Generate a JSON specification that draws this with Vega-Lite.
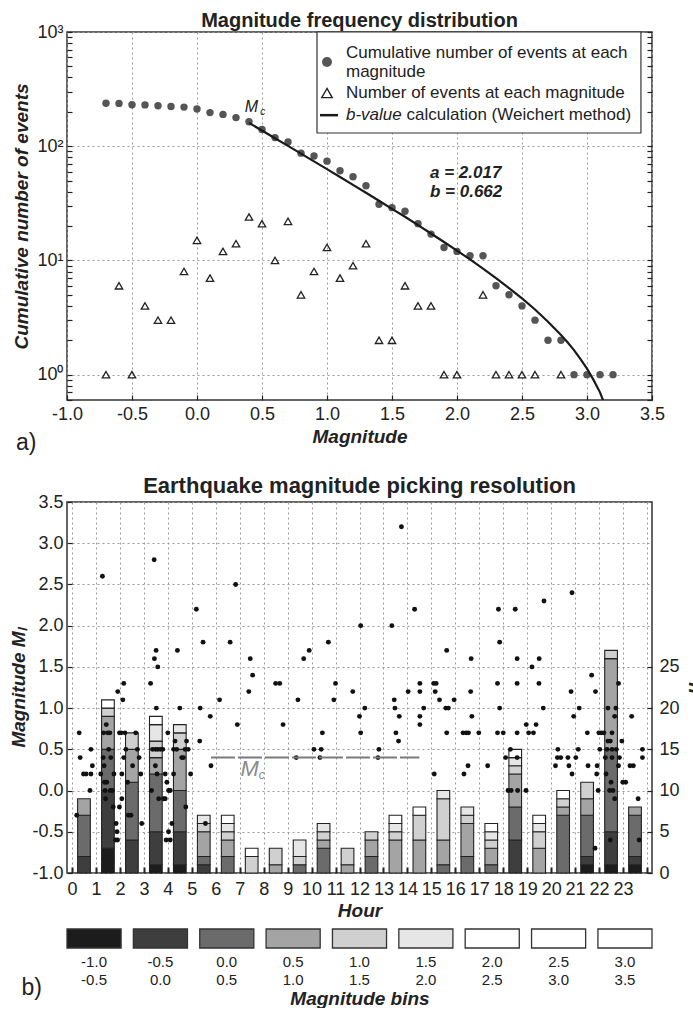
{
  "$schema": "https://vega.github.io/schema/vega-lite/v6.json",
  "background": "white",
  "padding": {"left": 9, "top": 10, "right": 0, "bottom": 0},
  "autosize": {"type": "pad"},
  "config": {
    "font": "Liberation Sans",
    "view": {"stroke": "#333333", "strokeWidth": 1.5},
    "axis": {
      "labelFont": "Liberation Sans",
      "labelFontSize": 18,
      "labelColor": "#222222",
      "titleFont": "Liberation Sans",
      "titleFontSize": 19,
      "titleFontWeight": "bold",
      "titleFontStyle": "italic",
      "titleColor": "#222222",
      "domain": false,
      "tickColor": "#222222",
      "tickWidth": 1.2,
      "gridColor": "#9a9a9a",
      "gridDash": [2, 3],
      "gridWidth": 1,
      "labelFlush": false,
      "labelOverlap": false
    },
    "title": {"font": "Liberation Sans", "fontWeight": "bold", "color": "#222222"},
    "text": {"font": "Liberation Sans", "color": "#222222"}
  },
  "datasets": {
    "cumulative": [
      {"m": -0.7, "N": 238}, {"m": -0.6, "N": 237}, {"m": -0.5, "N": 231}, {"m": -0.4, "N": 230},
      {"m": -0.3, "N": 226}, {"m": -0.2, "N": 223}, {"m": -0.1, "N": 220}, {"m": 0.0, "N": 212},
      {"m": 0.1, "N": 197}, {"m": 0.2, "N": 190}, {"m": 0.3, "N": 178}, {"m": 0.4, "N": 164},
      {"m": 0.5, "N": 140}, {"m": 0.6, "N": 119}, {"m": 0.7, "N": 109}, {"m": 0.8, "N": 87},
      {"m": 0.9, "N": 82}, {"m": 1.0, "N": 74}, {"m": 1.1, "N": 61}, {"m": 1.2, "N": 54},
      {"m": 1.3, "N": 45}, {"m": 1.4, "N": 31}, {"m": 1.5, "N": 29}, {"m": 1.6, "N": 27},
      {"m": 1.7, "N": 21}, {"m": 1.8, "N": 17}, {"m": 1.9, "N": 13}, {"m": 2.0, "N": 12},
      {"m": 2.1, "N": 11}, {"m": 2.2, "N": 11}, {"m": 2.3, "N": 6}, {"m": 2.4, "N": 5},
      {"m": 2.5, "N": 4}, {"m": 2.6, "N": 3}, {"m": 2.7, "N": 2}, {"m": 2.8, "N": 2},
      {"m": 2.9, "N": 1}, {"m": 3.0, "N": 1}, {"m": 3.1, "N": 1}, {"m": 3.2, "N": 1}
    ],
    "perMagnitude": [
      {"m": -0.7, "n": 1}, {"m": -0.6, "n": 6}, {"m": -0.5, "n": 1}, {"m": -0.4, "n": 4},
      {"m": -0.3, "n": 3}, {"m": -0.2, "n": 3}, {"m": -0.1, "n": 8}, {"m": 0.0, "n": 15},
      {"m": 0.1, "n": 7}, {"m": 0.2, "n": 12}, {"m": 0.3, "n": 14}, {"m": 0.4, "n": 24},
      {"m": 0.5, "n": 21}, {"m": 0.6, "n": 10}, {"m": 0.7, "n": 22}, {"m": 0.8, "n": 5},
      {"m": 0.9, "n": 8}, {"m": 1.0, "n": 13}, {"m": 1.1, "n": 7}, {"m": 1.2, "n": 9},
      {"m": 1.3, "n": 14}, {"m": 1.4, "n": 2}, {"m": 1.5, "n": 2}, {"m": 1.6, "n": 6},
      {"m": 1.7, "n": 4}, {"m": 1.8, "n": 4}, {"m": 1.9, "n": 1}, {"m": 2.0, "n": 1},
      {"m": 2.2, "n": 5}, {"m": 2.3, "n": 1}, {"m": 2.4, "n": 1}, {"m": 2.5, "n": 1},
      {"m": 2.6, "n": 1}, {"m": 2.8, "n": 1}
    ],
    "fit": [
      {"m": 0.4, "N": 160}, {"m": 0.5, "N": 137.1}, {"m": 0.6, "N": 117.5}, {"m": 0.7, "N": 100.6},
      {"m": 0.8, "N": 86.1}, {"m": 0.9, "N": 73.6}, {"m": 1.0, "N": 63.0}, {"m": 1.1, "N": 53.8},
      {"m": 1.2, "N": 45.9}, {"m": 1.3, "N": 39.1}, {"m": 1.4, "N": 33.3}, {"m": 1.5, "N": 28.3},
      {"m": 1.6, "N": 24.1}, {"m": 1.7, "N": 20.4}, {"m": 1.8, "N": 17.2}, {"m": 1.9, "N": 14.5},
      {"m": 2.0, "N": 12.2}, {"m": 2.1, "N": 10.2}, {"m": 2.2, "N": 8.47}, {"m": 2.3, "N": 7.0},
      {"m": 2.4, "N": 5.73}, {"m": 2.5, "N": 4.65}, {"m": 2.6, "N": 3.72}, {"m": 2.7, "N": 2.91},
      {"m": 2.8, "N": 2.23}, {"m": 2.85, "N": 1.92}, {"m": 2.9, "N": 1.64}, {"m": 2.95, "N": 1.37},
      {"m": 3.0, "N": 1.13}, {"m": 3.05, "N": 0.9}, {"m": 3.1, "N": 0.7}, {"m": 3.15, "N": 0.5},
      {"m": 3.2, "N": 0.32}
    ],
    "events": [
      {"t": 0.3, "m": 0.7}, {"t": 0.34, "m": 0.4}, {"t": 0.48, "m": 0.2}, {"t": 0.59, "m": 0.2}, {"t": 0.2, "m": -0.3},
      {"t": 0.79, "m": 0.5}, {"t": 0.85, "m": 0.3}, {"t": 0.79, "m": 0.2}, {"t": 0.75, "m": 0.0},
      {"t": 1.2, "m": 0.2}, {"t": 1.32, "m": 0.7}, {"t": 1.36, "m": 0.1}, {"t": 1.38, "m": 0.0}, {"t": 1.3, "m": 0.4},
      {"t": 1.34, "m": 0.3}, {"t": 1.43, "m": 0.8}, {"t": 1.49, "m": 0.7}, {"t": 1.53, "m": 0.5}, {"t": 1.45, "m": 0.1},
      {"t": 1.4, "m": -0.1}, {"t": 1.6, "m": 0.0}, {"t": 1.68, "m": 0.0}, {"t": 1.72, "m": -0.2}, {"t": 1.84, "m": -0.4},
      {"t": 1.88, "m": -0.5}, {"t": 1.82, "m": -0.6}, {"t": 1.9, "m": -0.6}, {"t": 1.98, "m": 0.7}, {"t": 1.62, "m": 0.4},
      {"t": 1.58, "m": 0.7}, {"t": 1.75, "m": 0.2}, {"t": 1.27, "m": 2.6}, {"t": 1.91, "m": 1.2},
      {"t": 2.05, "m": 0.7}, {"t": 2.21, "m": 0.7}, {"t": 2.66, "m": 0.7}, {"t": 2.08, "m": 0.2}, {"t": 2.25, "m": 0.5},
      {"t": 2.16, "m": 0.4}, {"t": 2.08, "m": -0.1}, {"t": 1.98, "m": -0.2}, {"t": 2.32, "m": 0.1}, {"t": 2.35, "m": -0.3},
      {"t": 2.46, "m": -0.3}, {"t": 2.73, "m": 0.5}, {"t": 2.8, "m": 0.4}, {"t": 2.87, "m": 0.2}, {"t": 2.91, "m": -0.4},
      {"t": 2.53, "m": 0.3}, {"t": 2.12, "m": 1.1}, {"t": 2.16, "m": 1.3},
      {"t": 3.32, "m": 0.0}, {"t": 3.28, "m": 1.3}, {"t": 3.51, "m": 1.7}, {"t": 3.44, "m": 1.6}, {"t": 3.58, "m": 1.5},
      {"t": 3.36, "m": 0.5}, {"t": 3.48, "m": 0.5}, {"t": 3.58, "m": 0.5}, {"t": 3.48, "m": 0.3}, {"t": 3.55, "m": 0.2},
      {"t": 3.62, "m": -0.1}, {"t": 3.69, "m": 0.5}, {"t": 3.79, "m": 0.5}, {"t": 3.89, "m": 0.2}, {"t": 3.96, "m": 0.1},
      {"t": 3.82, "m": -0.1}, {"t": 3.89, "m": -0.1}, {"t": 3.52, "m": 1.0}, {"t": 3.43, "m": 2.8},
      {"t": 4.03, "m": 0.0}, {"t": 4.1, "m": 0.0}, {"t": 3.93, "m": -0.6}, {"t": 4.03, "m": -0.5}, {"t": 4.1, "m": -0.6},
      {"t": 4.17, "m": -0.4}, {"t": 4.24, "m": 0.5}, {"t": 4.3, "m": 0.6}, {"t": 4.37, "m": 0.5}, {"t": 4.4, "m": 1.7},
      {"t": 4.5, "m": 1.0}, {"t": 4.58, "m": 0.4}, {"t": 4.65, "m": 0.4}, {"t": 4.72, "m": 0.5}, {"t": 4.78, "m": 0.6},
      {"t": 4.85, "m": 0.5}, {"t": 4.75, "m": -0.2}, {"t": 4.95, "m": 0.2}, {"t": 4.0, "m": 0.7}, {"t": 4.24, "m": 0.2},
      {"t": 5.35, "m": 1.0}, {"t": 5.33, "m": 0.6}, {"t": 5.47, "m": 1.8}, {"t": 5.57, "m": -0.4}, {"t": 5.77, "m": 0.9},
      {"t": 5.8, "m": 0.3}, {"t": 5.19, "m": 2.2},
      {"t": 6.16, "m": 1.1}, {"t": 6.6, "m": 1.8}, {"t": 6.9, "m": 0.8}, {"t": 6.83, "m": 2.5},
      {"t": 7.44, "m": 1.6}, {"t": 7.54, "m": 1.4}, {"t": 7.38, "m": 1.2},
      {"t": 8.5, "m": 1.3}, {"t": 8.67, "m": 1.3}, {"t": 8.81, "m": 0.8},
      {"t": 9.67, "m": 1.6}, {"t": 9.9, "m": 1.7}, {"t": 9.43, "m": 1.1}, {"t": 9.36, "m": 0.4},
      {"t": 10.45, "m": 0.7}, {"t": 10.1, "m": 0.5}, {"t": 10.4, "m": 0.5}, {"t": 10.35, "m": 0.4}, {"t": 10.7, "m": 1.8},
      {"t": 10.93, "m": 1.1},
      {"t": 11.0, "m": 1.3}, {"t": 11.72, "m": 1.2},
      {"t": 12.0, "m": 0.9}, {"t": 12.05, "m": 0.7}, {"t": 12.22, "m": 1.0}, {"t": 12.81, "m": 0.5}, {"t": 12.77, "m": 0.4},
      {"t": 12.05, "m": 2.0},
      {"t": 13.45, "m": 1.1}, {"t": 13.48, "m": 1.0}, {"t": 13.52, "m": 0.7}, {"t": 13.63, "m": 0.6}, {"t": 13.66, "m": 0.9},
      {"t": 13.35, "m": 2.0}, {"t": 13.75, "m": 3.2},
      {"t": 14.03, "m": 1.2}, {"t": 14.52, "m": 1.3}, {"t": 14.52, "m": 1.2}, {"t": 14.52, "m": 0.9}, {"t": 14.52, "m": 0.8},
      {"t": 14.68, "m": 1.0}, {"t": 14.3, "m": 2.2},
      {"t": 15.1, "m": 1.3}, {"t": 15.2, "m": 1.3}, {"t": 15.16, "m": 1.2}, {"t": 15.34, "m": 1.1}, {"t": 15.12, "m": 0.2},
      {"t": 15.6, "m": 1.0}, {"t": 15.71, "m": 1.0}, {"t": 15.64, "m": 0.7}, {"t": 15.64, "m": 1.7}, {"t": 15.95, "m": 1.1},
      {"t": 16.36, "m": 0.2}, {"t": 16.32, "m": 0.7}, {"t": 16.53, "m": 0.3}, {"t": 16.45, "m": 0.7}, {"t": 16.55, "m": 0.7},
      {"t": 16.66, "m": 1.6}, {"t": 16.64, "m": 1.2}, {"t": 16.69, "m": 0.9}, {"t": 16.98, "m": 0.7},
      {"t": 17.35, "m": 0.3}, {"t": 17.76, "m": 1.3}, {"t": 17.85, "m": 1.0}, {"t": 17.76, "m": 0.7}, {"t": 17.85, "m": 1.8},
      {"t": 17.8, "m": 2.2},
      {"t": 18.0, "m": 0.7}, {"t": 18.1, "m": 0.4}, {"t": 18.3, "m": 0.5}, {"t": 18.2, "m": 0.0}, {"t": 18.33, "m": 0.0},
      {"t": 18.58, "m": 1.6}, {"t": 18.58, "m": 1.3}, {"t": 18.58, "m": 0.7}, {"t": 18.58, "m": 0.4}, {"t": 18.6, "m": 0.0},
      {"t": 18.95, "m": 0.0}, {"t": 18.96, "m": 0.8}, {"t": 18.5, "m": 2.2},
      {"t": 19.06, "m": 0.7}, {"t": 19.26, "m": 0.7}, {"t": 19.2, "m": 1.5}, {"t": 19.5, "m": 1.6}, {"t": 19.49, "m": 1.3},
      {"t": 19.37, "m": 0.8}, {"t": 19.67, "m": 1.0}, {"t": 19.7, "m": 2.3},
      {"t": 20.18, "m": 0.3}, {"t": 20.28, "m": 0.5}, {"t": 20.26, "m": 0.4}, {"t": 20.4, "m": 0.4}, {"t": 20.7, "m": 0.4},
      {"t": 20.74, "m": 0.3}, {"t": 20.83, "m": 1.2}, {"t": 20.87, "m": 0.2}, {"t": 20.94, "m": 0.9}, {"t": 20.87, "m": 2.4},
      {"t": 21.03, "m": 0.4}, {"t": 21.13, "m": 0.5}, {"t": 21.17, "m": 1.0}, {"t": 21.51, "m": 0.7}, {"t": 21.54, "m": 0.3},
      {"t": 21.69, "m": 1.4}, {"t": 21.85, "m": 1.2}, {"t": 21.83, "m": -0.7}, {"t": 21.9, "m": 0.2}, {"t": 21.92, "m": 0.3},
      {"t": 21.96, "m": 0.0}, {"t": 21.99, "m": 0.7},
      {"t": 22.03, "m": 0.5}, {"t": 22.09, "m": 0.7}, {"t": 22.2, "m": 0.7}, {"t": 22.37, "m": 1.0}, {"t": 22.7, "m": 1.0},
      {"t": 22.81, "m": 1.3}, {"t": 22.65, "m": 0.9}, {"t": 22.54, "m": 0.7}, {"t": 22.37, "m": 0.6}, {"t": 22.47, "m": 0.6},
      {"t": 22.72, "m": 0.5}, {"t": 22.95, "m": 0.6}, {"t": 22.33, "m": 0.5}, {"t": 22.54, "m": 0.5}, {"t": 22.26, "m": 0.4},
      {"t": 22.54, "m": 0.4}, {"t": 22.85, "m": 0.4}, {"t": 22.81, "m": 0.3}, {"t": 22.29, "m": 0.2}, {"t": 22.5, "m": 0.1},
      {"t": 22.44, "m": 0.0}, {"t": 22.58, "m": 0.0}, {"t": 22.65, "m": -0.1}, {"t": 22.47, "m": -0.6}, {"t": 22.99, "m": 0.1},
      {"t": 23.11, "m": 0.1}, {"t": 23.36, "m": 0.9}, {"t": 23.29, "m": 0.3}, {"t": 23.43, "m": 0.3}, {"t": 23.63, "m": -0.1},
      {"t": 23.67, "m": -0.6}, {"t": 23.81, "m": 0.5}, {"t": 23.81, "m": 0.4}
    ],
    "hourlyBins": [
      {"hour": 0.5, "bin": -0.5, "n": 2}, {"hour": 0.5, "bin": 0, "n": 5}, {"hour": 0.5, "bin": 0.5, "n": 2},
      {"hour": 1.5, "bin": -1, "n": 3}, {"hour": 1.5, "bin": -0.5, "n": 7}, {"hour": 1.5, "bin": 0, "n": 5}, {"hour": 1.5, "bin": 0.5, "n": 4}, {"hour": 1.5, "bin": 1, "n": 1}, {"hour": 1.5, "bin": 2.5, "n": 1},
      {"hour": 2.5, "bin": -0.5, "n": 4}, {"hour": 2.5, "bin": 0, "n": 7}, {"hour": 2.5, "bin": 0.5, "n": 4}, {"hour": 2.5, "bin": 1, "n": 2},
      {"hour": 3.5, "bin": -1, "n": 1}, {"hour": 3.5, "bin": -0.5, "n": 4}, {"hour": 3.5, "bin": 0, "n": 7}, {"hour": 3.5, "bin": 0.5, "n": 2}, {"hour": 3.5, "bin": 1, "n": 2}, {"hour": 3.5, "bin": 1.5, "n": 2}, {"hour": 3.5, "bin": 2.5, "n": 1},
      {"hour": 4.5, "bin": -1, "n": 1}, {"hour": 4.5, "bin": -0.5, "n": 4}, {"hour": 4.5, "bin": 0, "n": 5}, {"hour": 4.5, "bin": 0.5, "n": 5}, {"hour": 4.5, "bin": 1, "n": 2}, {"hour": 4.5, "bin": 1.5, "n": 1},
      {"hour": 5.5, "bin": -0.5, "n": 1}, {"hour": 5.5, "bin": 0, "n": 1}, {"hour": 5.5, "bin": 0.5, "n": 3}, {"hour": 5.5, "bin": 1, "n": 1}, {"hour": 5.5, "bin": 1.5, "n": 1},
      {"hour": 6.5, "bin": 0, "n": 2}, {"hour": 6.5, "bin": 0.5, "n": 2}, {"hour": 6.5, "bin": 1, "n": 1}, {"hour": 6.5, "bin": 1.5, "n": 1}, {"hour": 6.5, "bin": 2, "n": 1},
      {"hour": 7.5, "bin": 1, "n": 2}, {"hour": 7.5, "bin": 2.5, "n": 1},
      {"hour": 8.5, "bin": 0.5, "n": 1}, {"hour": 8.5, "bin": 1, "n": 2},
      {"hour": 9.5, "bin": 0, "n": 1}, {"hour": 9.5, "bin": 1, "n": 1}, {"hour": 9.5, "bin": 1.5, "n": 2},
      {"hour": 10.5, "bin": 0, "n": 3}, {"hour": 10.5, "bin": 0.5, "n": 1}, {"hour": 10.5, "bin": 1, "n": 1}, {"hour": 10.5, "bin": 1.5, "n": 1},
      {"hour": 11.5, "bin": 0.5, "n": 1}, {"hour": 11.5, "bin": 1, "n": 2},
      {"hour": 12.5, "bin": 0, "n": 2}, {"hour": 12.5, "bin": 0.5, "n": 2}, {"hour": 12.5, "bin": 1, "n": 1},
      {"hour": 13.5, "bin": 0.5, "n": 4}, {"hour": 13.5, "bin": 1, "n": 1}, {"hour": 13.5, "bin": 1.5, "n": 1}, {"hour": 13.5, "bin": 3, "n": 1},
      {"hour": 14.5, "bin": 0.5, "n": 4}, {"hour": 14.5, "bin": 1, "n": 3}, {"hour": 14.5, "bin": 2, "n": 1},
      {"hour": 15.5, "bin": 0, "n": 1}, {"hour": 15.5, "bin": 0.5, "n": 3}, {"hour": 15.5, "bin": 1, "n": 5}, {"hour": 15.5, "bin": 1.5, "n": 1},
      {"hour": 16.5, "bin": 0, "n": 2}, {"hour": 16.5, "bin": 0.5, "n": 4}, {"hour": 16.5, "bin": 1, "n": 1}, {"hour": 16.5, "bin": 1.5, "n": 1},
      {"hour": 17.5, "bin": 0, "n": 1}, {"hour": 17.5, "bin": 0.5, "n": 2}, {"hour": 17.5, "bin": 1, "n": 1}, {"hour": 17.5, "bin": 1.5, "n": 1}, {"hour": 17.5, "bin": 2, "n": 1},
      {"hour": 18.5, "bin": -0.5, "n": 4}, {"hour": 18.5, "bin": 0, "n": 4}, {"hour": 18.5, "bin": 0.5, "n": 4}, {"hour": 18.5, "bin": 1, "n": 1}, {"hour": 18.5, "bin": 1.5, "n": 1}, {"hour": 18.5, "bin": 2, "n": 1},
      {"hour": 19.5, "bin": 0.5, "n": 3}, {"hour": 19.5, "bin": 1, "n": 2}, {"hour": 19.5, "bin": 1.5, "n": 1}, {"hour": 19.5, "bin": 2, "n": 1},
      {"hour": 20.5, "bin": 0, "n": 7}, {"hour": 20.5, "bin": 0.5, "n": 1}, {"hour": 20.5, "bin": 1, "n": 1}, {"hour": 20.5, "bin": 2, "n": 1},
      {"hour": 21.5, "bin": -1, "n": 1}, {"hour": 21.5, "bin": -0.5, "n": 1}, {"hour": 21.5, "bin": 0, "n": 5}, {"hour": 21.5, "bin": 0.5, "n": 2}, {"hour": 21.5, "bin": 1, "n": 2},
      {"hour": 22.5, "bin": -1, "n": 1}, {"hour": 22.5, "bin": -0.5, "n": 4}, {"hour": 22.5, "bin": 0, "n": 10}, {"hour": 22.5, "bin": 0.5, "n": 11}, {"hour": 22.5, "bin": 1, "n": 1},
      {"hour": 23.5, "bin": -1, "n": 1}, {"hour": 23.5, "bin": -0.5, "n": 1}, {"hour": 23.5, "bin": 0, "n": 5}, {"hour": 23.5, "bin": 0.5, "n": 1}
    ],
    "binKey": [
      {"range": "-1.0|-0.5", "bin": -1}, {"range": "-0.5|0.0", "bin": -0.5}, {"range": "0.0|0.5", "bin": 0},
      {"range": "0.5|1.0", "bin": 0.5}, {"range": "1.0|1.5", "bin": 1}, {"range": "1.5|2.0", "bin": 1.5},
      {"range": "2.0|2.5", "bin": 2}, {"range": "2.5|3.0", "bin": 2.5}, {"range": "3.0|3.5", "bin": 3}
    ]
  },
  "bounds": "flush",
  "spacing": 102,
  "vconcat": [
    {
      "width": 585,
      "height": 368,
      "title": {"text": "Magnitude frequency distribution", "fontSize": 20, "offset": -8},
      "resolve": {"axis": {"y": "independent"}},
      "layer": [
        {
          "data": {"name": "cumulative"},
          "mark": {"type": "point", "shape": "circle", "filled": true, "color": "#555555", "opacity": 1, "size": 55},
          "encoding": {
            "x": {
              "field": "m", "type": "quantitative",
              "scale": {"domain": [-1, 3.5], "nice": false, "zero": false},
              "axis": {
                "orient": "bottom",
                "values": [-1, -0.5, 0, 0.5, 1, 1.5, 2, 2.5, 3, 3.5],
                "labelExpr": "(datum.value < 0 ? '-' : '') + format(abs(datum.value), '.1f')",
                "tickSize": -5, "labelPadding": 10, "grid": true, "labelOverlap": false,
                "title": "Magnitude", "titlePadding": 4
              }
            },
            "y": {
              "field": "N", "type": "quantitative",
              "scale": {"type": "log", "domain": [0.6, 1000], "nice": false},
              "axis": {
                "orient": "left",
                "values": [0.6, 0.7, 0.8, 0.9, 1, 2, 3, 4, 5, 6, 7, 8, 9, 10, 20, 30, 40, 50, 60, 70, 80, 90, 100, 200, 300, 400, 500, 600, 700, 800, 900, 1000],
                "labelExpr": "datum.value == 1 ? '10⁰' : datum.value == 10 ? '10¹' : datum.value == 100 ? '10²' : datum.value == 1000 ? '10³' : ''",
                "tickSize": -5, "labelPadding": 9, "labelOverlap": false,
                "grid": true,
                "gridOpacity": {"condition": {"test": "datum.value == 1 || datum.value == 10 || datum.value == 100 || datum.value == 1000", "value": 1}, "value": 0},
                "title": "Cumulative number of events", "titlePadding": 5
              }
            }
          }
        },
        {
          "data": {"name": "perMagnitude"},
          "mark": {"type": "point", "shape": "triangle-up", "filled": false, "stroke": "#222222", "strokeWidth": 1.3, "size": 55, "opacity": 1},
          "encoding": {
            "x": {"field": "m", "type": "quantitative"},
            "y": {
              "field": "n", "type": "quantitative",
              "scale": {"type": "log", "domain": [0.6, 1000], "nice": false},
              "axis": {
                "orient": "right",
                "values": [0.6, 0.7, 0.8, 0.9, 1, 2, 3, 4, 5, 6, 7, 8, 9, 10, 20, 30, 40, 50, 60, 70, 80, 90, 100, 200, 300, 400, 500, 600, 700, 800, 900, 1000],
                "labels": false, "tickSize": -5, "grid": false, "title": null
              }
            }
          }
        },
        {
          "data": {"name": "fit"},
          "mark": {"type": "line", "color": "#1a1a1a", "strokeWidth": 2.2, "clip": true},
          "encoding": {
            "x": {"field": "m", "type": "quantitative"},
            "y": {"field": "N", "type": "quantitative", "scale": {"type": "log", "domain": [0.6, 1000], "nice": false}, "axis": null}
          }
        },
        {
          "data": {"values": [{}]},
          "mark": {"type": "rect", "fill": "white", "stroke": "#333333", "strokeWidth": 1.2},
          "encoding": {
            "x": {"datum": 0.923, "type": "quantitative"},
            "x2": {"datum": 3.415},
            "y": {"datum": 1000, "type": "quantitative", "scale": {"type": "log", "domain": [0.6, 1000], "nice": false}, "axis": null},
            "y2": {"datum": 130.6}
          }
        },
        {
          "data": {"values": [{}]},
          "mark": {"type": "point", "shape": "circle", "filled": true, "color": "#555555", "opacity": 1, "size": 100},
          "encoding": {
            "x": {"datum": 1.0, "type": "quantitative"},
            "y": {"datum": 546, "type": "quantitative", "scale": {"type": "log", "domain": [0.6, 1000], "nice": false}, "axis": null}
          }
        },
        {
          "data": {"values": [{}]},
          "mark": {"type": "point", "shape": "triangle-up", "filled": false, "stroke": "#222222", "strokeWidth": 1.4, "size": 110, "opacity": 1},
          "encoding": {
            "x": {"datum": 1.0, "type": "quantitative"},
            "y": {"datum": 292, "type": "quantitative", "scale": {"type": "log", "domain": [0.6, 1000], "nice": false}, "axis": null}
          }
        },
        {
          "data": {"values": [{}]},
          "mark": {"type": "rule", "color": "#1a1a1a", "strokeWidth": 2.5},
          "encoding": {
            "x": {"datum": 0.946, "type": "quantitative"},
            "x2": {"datum": 1.085},
            "y": {"datum": 187, "type": "quantitative", "scale": {"type": "log", "domain": [0.6, 1000], "nice": false}, "axis": null}
          }
        },
        {
          "data": {"values": [{"label": "Cumulative number of events at each"}]},
          "mark": {"type": "text", "align": "left", "baseline": "middle", "fontSize": 17},
          "encoding": {
            "x": {"datum": 1.146, "type": "quantitative"},
            "y": {"datum": 655, "type": "quantitative", "scale": {"type": "log", "domain": [0.6, 1000], "nice": false}, "axis": null},
            "text": {"field": "label"}
          }
        },
        {
          "data": {"values": [{"label": "magnitude"}]},
          "mark": {"type": "text", "align": "left", "baseline": "middle", "fontSize": 17},
          "encoding": {
            "x": {"datum": 1.146, "type": "quantitative"},
            "y": {"datum": 447, "type": "quantitative", "scale": {"type": "log", "domain": [0.6, 1000], "nice": false}, "axis": null},
            "text": {"field": "label"}
          }
        },
        {
          "data": {"values": [{"label": "Number of events at each magnitude"}]},
          "mark": {"type": "text", "align": "left", "baseline": "middle", "fontSize": 17},
          "encoding": {
            "x": {"datum": 1.146, "type": "quantitative"},
            "y": {"datum": 292, "type": "quantitative", "scale": {"type": "log", "domain": [0.6, 1000], "nice": false}, "axis": null},
            "text": {"field": "label"}
          }
        },
        {
          "data": {"values": [{"label": "b-value"}]},
          "mark": {"type": "text", "align": "left", "baseline": "middle", "fontSize": 17, "fontStyle": "italic"},
          "encoding": {
            "x": {"datum": 1.146, "type": "quantitative"},
            "y": {"datum": 187, "type": "quantitative", "scale": {"type": "log", "domain": [0.6, 1000], "nice": false}, "axis": null},
            "text": {"field": "label"}
          }
        },
        {
          "data": {"values": [{"label": "calculation (Weichert method)"}]},
          "mark": {"type": "text", "align": "left", "baseline": "middle", "fontSize": 17},
          "encoding": {
            "x": {"datum": 1.612, "type": "quantitative"},
            "y": {"datum": 187, "type": "quantitative", "scale": {"type": "log", "domain": [0.6, 1000], "nice": false}, "axis": null},
            "text": {"field": "label"}
          }
        },
        {
          "data": {"values": [{"label": "a = 2.017"}]},
          "mark": {"type": "text", "align": "left", "baseline": "middle", "fontSize": 17, "fontWeight": "bold", "fontStyle": "italic"},
          "encoding": {
            "x": {"datum": 1.792, "type": "quantitative"},
            "y": {"datum": 58.4, "type": "quantitative", "scale": {"type": "log", "domain": [0.6, 1000], "nice": false}, "axis": null},
            "text": {"field": "label"}
          }
        },
        {
          "data": {"values": [{"label": "b = 0.662"}]},
          "mark": {"type": "text", "align": "left", "baseline": "middle", "fontSize": 17, "fontWeight": "bold", "fontStyle": "italic"},
          "encoding": {
            "x": {"datum": 1.792, "type": "quantitative"},
            "y": {"datum": 39.8, "type": "quantitative", "scale": {"type": "log", "domain": [0.6, 1000], "nice": false}, "axis": null},
            "text": {"field": "label"}
          }
        },
        {
          "data": {"values": [{"label": "M"}]},
          "mark": {"type": "text", "align": "center", "baseline": "middle", "fontSize": 16, "fontStyle": "italic"},
          "encoding": {
            "x": {"datum": 0.419, "type": "quantitative"},
            "y": {"datum": 222, "type": "quantitative", "scale": {"type": "log", "domain": [0.6, 1000], "nice": false}, "axis": null},
            "text": {"field": "label"}
          }
        },
        {
          "data": {"values": [{"label": "c"}]},
          "mark": {"type": "text", "align": "center", "baseline": "middle", "fontSize": 10, "fontStyle": "italic"},
          "encoding": {
            "x": {"datum": 0.505, "type": "quantitative"},
            "y": {"datum": 200, "type": "quantitative", "scale": {"type": "log", "domain": [0.6, 1000], "nice": false}, "axis": null},
            "text": {"field": "label"}
          }
        },
        {
          "data": {"values": [{"label": "a)"}]},
          "mark": {"type": "text", "align": "left", "baseline": "middle", "fontSize": 23, "clip": false},
          "encoding": {
            "x": {"datum": -1.392, "type": "quantitative"},
            "y": {"datum": 0.252, "type": "quantitative", "scale": {"type": "log", "domain": [0.6, 1000], "nice": false}, "axis": null},
            "text": {"field": "label"}
          }
        }
      ]
    },
    {
      "bounds": "flush",
      "spacing": 56,
      "vconcat": [
        {
          "width": 585,
          "height": 371,
          "title": {"text": "Earthquake magnitude picking resolution", "fontSize": 22, "offset": -5},
          "resolve": {"scale": {"y": "independent"}, "axis": {"y": "independent"}},
          "encoding": {
            "x": {
              "type": "quantitative",
              "scale": {"domain": [0, 24], "nice": false, "zero": false},
              "axis": {
                "orient": "bottom",
                "values": [0, 1, 2, 3, 4, 5, 6, 7, 8, 9, 10, 11, 12, 13, 14, 15, 16, 17, 18, 19, 20, 21, 22, 23, 24],
                "labelExpr": "datum.value == 24 ? '' : format(datum.value, 'd')",
                "labelOverlap": false, "labelSeparation": -12, "labelBound": false,
                "tickSize": -6, "tickWidth": 2, "labelPadding": 13, "grid": true,
                "title": "Hour", "titlePadding": 3
              }
            }
          },
          "layer": [
            {
              "data": {"name": "hourlyBins"},
              "mark": {"type": "bar", "width": 12.7, "stroke": "#222222", "strokeWidth": 1.1},
              "encoding": {
                "x": {"field": "hour"},
                "y": {
                  "field": "n", "type": "quantitative", "stack": "zero",
                  "scale": {"domain": [0, 45], "nice": false},
                  "axis": {
                    "orient": "right", "values": [0, 5, 10, 15, 20, 25],
                    "tickSize": -5, "labelPadding": 12, "grid": false, "labelOverlap": false,
                    "title": "n", "titlePadding": 5
                  }
                },
                "color": {
                  "field": "bin", "type": "ordinal",
                  "scale": {"domain": [-1, -0.5, 0, 0.5, 1, 1.5, 2, 2.5, 3], "range": ["#1c1c1c", "#3e3e3e", "#6b6b6b", "#a4a4a4", "#d0d0d0", "#e6e6e6", "#ffffff", "#ffffff", "#ffffff"]},
                  "legend": null
                },
                "order": {"field": "bin", "type": "quantitative", "sort": "ascending"}
              }
            },
            {
              "layer": [
                {
                  "data": {"name": "events"},
                  "mark": {"type": "circle", "color": "#111111", "opacity": 1, "size": 24},
                  "encoding": {
                    "x": {"field": "t"},
                    "y": {
                      "field": "m", "type": "quantitative",
                      "scale": {"domain": [-1, 3.5], "nice": false, "zero": false},
                      "axis": {
                        "orient": "left",
                        "values": [-1, -0.5, 0, 0.5, 1, 1.5, 2, 2.5, 3, 3.5],
                        "labelExpr": "(datum.value < 0 ? '-' : '') + format(abs(datum.value), '.1f')",
                        "tickSize": -5, "labelPadding": 9, "grid": true, "labelOverlap": false,
                        "title": "Magnitude Mₗ", "titlePadding": 3
                      }
                    }
                  }
                },
                {
                  "data": {"values": [{}]},
                  "mark": {"type": "rule", "color": "#7a7a7a", "strokeWidth": 2, "strokeDash": [24, 3]},
                  "encoding": {
                    "x": {"datum": 5.8},
                    "x2": {"datum": 14.5},
                    "y": {"datum": 0.4, "type": "quantitative", "scale": {"domain": [-1, 3.5], "nice": false, "zero": false}}
                  }
                },
                {
                  "data": {"values": [{"label": "M"}]},
                  "mark": {"type": "text", "align": "center", "baseline": "middle", "fontSize": 22, "fontStyle": "italic", "color": "#8a8a8a"},
                  "encoding": {
                    "x": {"datum": 7.41},
                    "y": {"datum": 0.267, "type": "quantitative", "scale": {"domain": [-1, 3.5], "nice": false, "zero": false}},
                    "text": {"field": "label"}
                  }
                },
                {
                  "data": {"values": [{"label": "c"}]},
                  "mark": {"type": "text", "align": "center", "baseline": "middle", "fontSize": 12, "fontStyle": "italic", "color": "#8a8a8a"},
                  "encoding": {
                    "x": {"datum": 7.92},
                    "y": {"datum": 0.188, "type": "quantitative", "scale": {"domain": [-1, 3.5], "nice": false, "zero": false}},
                    "text": {"field": "label"}
                  }
                }
              ]
            }
          ]
        },
        {
          "width": 585,
          "height": 19,
          "view": {"stroke": null},
          "title": {"text": "b)", "orient": "left", "angle": 0, "anchor": "start", "fontSize": 23, "fontWeight": "normal", "offset": 4, "baseline": "bottom", "align": "right", "dy": -8},
          "data": {"name": "binKey"},
          "mark": {"type": "rect", "stroke": "#333333", "strokeWidth": 1.3},
          "encoding": {
            "x": {
              "field": "range", "type": "ordinal", "sort": null,
              "scale": {"paddingInner": 0.185, "paddingOuter": 0},
              "axis": {
                "orient": "bottom", "labelExpr": "split(datum.label, '|')", "labelAngle": 0,
                "ticks": false, "domain": false, "grid": false,
                "labelFontSize": 15, "labelLineHeight": 18, "labelPadding": 6,
                "title": "Magnitude bins", "titlePadding": 2
              }
            },
            "color": {
              "field": "bin", "type": "ordinal",
              "scale": {"domain": [-1, -0.5, 0, 0.5, 1, 1.5, 2, 2.5, 3], "range": ["#1c1c1c", "#3e3e3e", "#6b6b6b", "#a4a4a4", "#d0d0d0", "#e6e6e6", "#ffffff", "#ffffff", "#ffffff"]},
              "legend": null
            }
          }
        }
      ]
    }
  ]
}
